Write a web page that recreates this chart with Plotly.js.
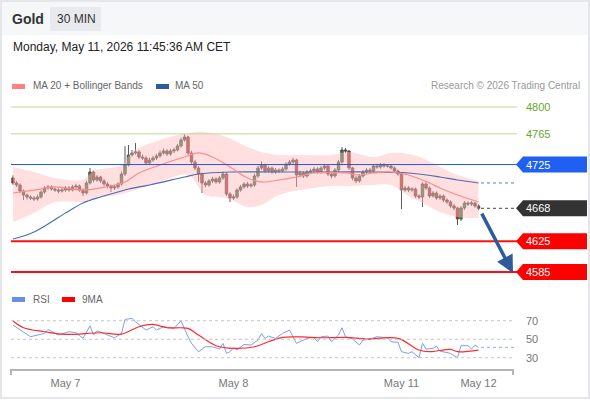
<!DOCTYPE html>
<html><head><meta charset="utf-8">
<script src="https://cdn.plot.ly/plotly-3.0.1.min.js"></script>
<style>html,body{margin:0;padding:0;background:#fff;}#chart{width:590px;height:400px;}</style>
</head><body><div id="chart"></div>
<script>
// ---- data ----
const tickLabels = ['May 7', 'May 8', 'May 11', 'May 12'];
const tickIdx = [15, 63, 111, 133];

const openP = [4707.5,4701.0,4698.4,4690.5,4685.3,4682.7,4681.4,4680.1,4682.7,4689.2,
4694.5,4695.8,4693.1,4691.8,4690.5,4691.8,4694.5,4691.8,4695.8,4697.1,
4691.8,4687.9,4701.0,4715.3,4704.9,4708.8,4703.6,4699.7,4697.1,4694.5,
4695.8,4699.7,4712.7,4724.4,4737.5,4740.1,4741.4,4734.8,4733.5,4727.0,
4730.9,4733.5,4736.2,4740.1,4742.7,4738.8,4742.7,4744.0,4749.2,4757.0,
4760.9,4740.1,4728.3,4720.5,4712.7,4701.0,4698.4,4703.6,4706.2,4702.3,
4707.5,4712.7,4686.6,4681.4,4682.7,4691.8,4695.8,4699.7,4697.1,4698.4,
4710.1,4720.5,4724.4,4716.6,4720.5,4715.3,4717.9,4716.6,4719.2,4725.7,
4728.3,4730.9,4711.4,4714.0,4710.1,4715.3,4716.6,4719.2,4715.3,4720.5,
4723.1,4712.7,4710.1,4717.9,4728.3,4744.0,4742.7,4720.5,4707.5,4703.6,
4710.1,4715.3,4717.9,4716.6,4723.1,4721.8,4724.4,4723.1,4723.1,4720.5,
4716.6,4712.7,4691.8,4694.5,4691.8,4693.1,4684.0,4682.7,4699.7,4694.5,
4684.0,4687.9,4681.4,4684.0,4678.8,4676.2,4671.0,4668.4,4654.1,4668.4,
4674.9,4673.6,4674.9,4671.0];
const highP = [4711,4703.5,4700.5,4692.5,4687.5,4685,4684,4686,4691.5,4697,
4698.5,4698,4695.5,4694,4694.5,4697,4697,4698.5,4700,4699,
4694,4704,4720.5,4717,4711.5,4710.5,4706,4702,4699,4698.5,
4702,4716,4749,4750.5,4744,4753,4744,4738,4736,4734,
4736.5,4739,4743.5,4746,4745,4745.5,4747,4752,4760,4764.5,
4762.5,4743,4731,4723,4714.5,4703.5,4706,4709,4708.5,4710,
4716,4714.5,4689,4686,4694,4698.5,4702,4702.5,4701,4713,
4723.5,4729,4726,4723,4722.5,4720.5,4720,4722,4728,4731,
4734,4732.5,4717,4716.5,4718,4719.5,4722,4721.5,4723,4726,
4725,4715,4720.5,4731,4748,4746.5,4744,4722,4710,4712.5,
4718,4720,4720.5,4725.5,4726,4727,4727,4725.5,4725,4722.5,
4718.5,4714,4697,4697,4695.5,4695,4686.5,4702,4702,4696.5,
4690.5,4690,4686.5,4686,4681,4678.5,4673.5,4670,4671,4677.5,
4677,4677.5,4676.5,4673];
const lowP = [4698.5,4696,4688,4678.8,4679.5,4679,4677.5,4678,4680.5,4687,
4692,4691,4689.5,4688,4688.5,4689.5,4689.5,4690,4693,4689.5,
4684,4686,4699,4702,4702.5,4701,4697,4694,4689.2,4692,
4693.5,4697.5,4710,4722.5,4735.5,4738,4732,4731,4724.5,4725,
4728.5,4731,4734,4738,4736,4736.5,4740,4742,4747,4755,
4737.5,4725.5,4717.5,4702.3,4687.9,4695.5,4696,4701,4700,4700,
4705,4684,4676.2,4679,4680.5,4689.5,4693.5,4694.5,4695,4696,
4707.5,4718,4714,4714.5,4713,4713,4714,4714.5,4717,4723.5,
4726,4695.8,4708.5,4707.5,4708,4713,4714,4713,4713,4718,
4710,4707,4708,4715.5,4726,4740,4718,4704.5,4701,4701.5,
4708,4713,4714,4714.5,4719.5,4719.5,4721,4721,4718.5,4714.5,
4710.5,4667,4689.5,4689,4689.5,4681.5,4680,4669.7,4692,4681.5,
4682,4679,4679,4676,4673.5,4668.5,4665.5,4646.2,4651.5,4666,
4671,4671,4668.5,4665.5];
const closeP = [4701.0,4698.4,4690.5,4685.3,4682.7,4681.4,4680.1,4682.7,4689.2,4694.5,
4695.8,4693.1,4691.8,4690.5,4691.8,4694.5,4691.8,4695.8,4697.1,4691.8,
4687.9,4701.0,4715.3,4704.9,4708.8,4703.6,4699.7,4697.1,4694.5,4695.8,
4699.7,4712.7,4724.4,4737.5,4740.1,4741.4,4734.8,4733.5,4727.0,4730.9,
4733.5,4736.2,4740.1,4742.7,4738.8,4742.7,4744.0,4749.2,4757.0,4760.9,
4740.1,4728.3,4720.5,4712.7,4701.0,4698.4,4703.6,4706.2,4702.3,4707.5,
4712.7,4686.6,4681.4,4682.7,4691.8,4695.8,4699.7,4697.1,4698.4,4710.1,
4720.5,4724.4,4716.6,4720.5,4715.3,4717.9,4716.6,4719.2,4725.7,4728.3,
4730.9,4711.4,4714.0,4710.1,4715.3,4716.6,4719.2,4715.3,4720.5,4723.1,
4712.7,4710.1,4717.9,4728.3,4744.0,4742.7,4720.5,4707.5,4703.6,4710.1,
4715.3,4717.9,4716.6,4723.1,4721.8,4724.4,4723.1,4723.1,4720.5,4716.6,
4712.7,4691.8,4694.5,4691.8,4693.1,4684.0,4682.7,4699.7,4694.5,4684.0,
4687.9,4681.4,4684.0,4678.8,4676.2,4671.0,4668.4,4654.1,4668.4,4674.9,
4673.6,4674.9,4671.0,4668.0];

const ma20Idx = [0,6,12,20,25,32,36,42,49,53,57,62,67,71,76,81,86,95,99,103,108,113,119,122,127,133];
const ma20 = [4687.9,4691.8,4695.8,4691.8,4694.5,4702.3,4714,4724.4,4734.8,4740.1,4734.8,4721.8,4707.5,4702.3,4704.9,4708.8,4714,4714,4711.4,4714,4715.3,4711.4,4701,4694.5,4685.3,4676.2];

const bbIdx = [0,6,12,20,23,31,34,42,50,55,61,67,71,76,82,91,96,103,108,113,117,122,127,133];
const bbUpper = [4721.8,4715.3,4707.5,4704.9,4716.6,4724.4,4741.4,4757.0,4766.1,4767.4,4760.9,4747.9,4741.4,4737.5,4737.5,4737.5,4741.4,4734.8,4740.1,4738.8,4733.5,4721.8,4711.4,4703.6];
const bbLower = [4650.1,4661.9,4676.2,4676.2,4680.1,4686.6,4690.5,4702.3,4711.4,4685.3,4681.4,4669.7,4672.3,4685.3,4691.8,4697.1,4697.1,4698.4,4698.4,4684.0,4674.9,4663.2,4656.7,4655.4];

const ma50Idx = [0,6,15,20,25,30,33,39,49,53,62,76,91,103,113,122,127,133];
const ma50 = [4628,4637.1,4661.9,4674.9,4682.7,4689.2,4693.1,4698.4,4708.8,4712.7,4715.3,4715.3,4715.3,4715.3,4714,4708.8,4704.9,4701];

const rsiIdx = [0,5,9,10,13,16,18,20,22,23,24,28,29,31,32,34,35,38,40,41,43,46,48,50,51,53,55,57,59,60,61,62,63,64,66,68,70,71,72,73,75,77,79,81,82,84,86,87,88,90,91,93,94,95,97,99,100,102,104,107,108,110,111,113,114,116,117,118,120,121,122,124,125,127,128,130,131,132,133];
const rsi = [65.3,52.7,56.3,60.6,54.5,58.1,57,50.9,64.6,54.5,59.2,52.7,51.6,56.3,71.4,72.5,68.9,59.9,63.5,59.9,63.5,61.7,70,52.7,45.5,36.5,41.9,41.9,39.4,45.5,34.7,36.5,40.8,38.3,44.4,43.7,49.1,56.3,50.9,53.4,50.9,56.3,59.9,45.5,47.3,50.9,52,47.3,52.7,53.4,47.3,54.5,62.4,52.7,50.2,43.7,49.1,50.2,52.7,51.6,47.3,46.6,36.5,34.7,36.5,30,45.5,39.4,40.1,42.6,37.2,35.8,34.7,30,43,43,39.4,43.7,41.2];

const rsiMaIdx = [0,3,9,15,25,31,36,40,44,48,50,53,58,63,69,73,77,82,88,95,101,110,116,119,125,127,133];
const rsiMa = [69.6,62.4,58.1,55.2,57,55.6,63.5,66,62.4,62.4,61.7,54.5,43,40.1,41.9,47.3,52,52.5,51.6,52,50.2,50.9,38.3,36.5,39,36.5,38.3];

const resistances = [4800, 4765];
const pivot = 4725;
const lastPrice = 4668;
const supports = [4625, 4585];
const rsiLevels = [70, 50, 30];

// ---- layout helpers (pixel -> paper) ----
const FONT = 'Liberation Sans, Arial, sans-serif';
const L = 11, R = 513, H = 400;
const px = x => (x - L) / (R - L);
const py = y => 1 - y / H;
const priceRange = [4572, 4809.1];
const rsiRange = [18.9, 92.4];
const pricePerPx = (priceRange[1] - priceRange[0]) / 182;
const idx = closeP.map((_, i) => i);

const traces = [
  {x: bbIdx, y: bbUpper, mode: 'lines', line: {width: 0, shape: 'spline'}, hoverinfo: 'skip'},
  {x: bbIdx, y: bbLower, mode: 'lines', line: {width: 0, shape: 'spline'}, fill: 'tonexty',
   fillcolor: 'rgba(255,185,185,0.45)', hoverinfo: 'skip'},
  {x: ma50Idx, y: ma50, mode: 'lines', line: {color: '#4a6fb0', width: 1.2, shape: 'spline'}, hoverinfo: 'skip'},
  {x: ma20Idx, y: ma20, mode: 'lines', line: {color: '#ff8a8a', width: 1.2, shape: 'spline'}, hoverinfo: 'skip'},
  {type: 'candlestick', x: idx, open: openP, high: highP, low: lowP, close: closeP, whiskerwidth: 0,
   increasing: {line: {color: '#4a4a4a', width: 0.9}, fillcolor: '#2f8f2f'},
   decreasing: {line: {color: '#4a4a4a', width: 0.9}, fillcolor: '#e8201c'}, hoverinfo: 'skip'},
  {x: rsiIdx, y: rsi, yaxis: 'y2', mode: 'lines', line: {color: '#7d9ef0', width: 1}, hoverinfo: 'skip'},
  {x: rsiMaIdx, y: rsiMa, yaxis: 'y2', mode: 'lines', line: {color: '#ff2a2a', width: 1.2, shape: 'spline'}, hoverinfo: 'skip'}
];

const shapes = [];
const ann = [];
// header band and frame
shapes.push({type: 'rect', layer: 'below', xref: 'paper', yref: 'paper', x0: px(1), x1: px(589), y0: py(1), y1: py(35),
  fillcolor: '#f6f7f8', line: {width: 0}});
shapes.push({type: 'rect', layer: 'below', xref: 'paper', yref: 'paper', x0: px(50), x1: px(101), y0: py(7), y1: py(31),
  fillcolor: '#e8eaed', line: {width: 0}});
shapes.push({type: 'rect', xref: 'paper', yref: 'paper', x0: px(1), x1: px(589), y0: py(1), y1: py(398),
  fillcolor: 'rgba(0,0,0,0)', line: {color: '#e4e6e9', width: 2}});
// legend swatches
shapes.push({type: 'rect', xref: 'paper', yref: 'paper', x0: px(12), x1: px(25), y0: py(84), y1: py(89), fillcolor: '#ff8080', line: {width: 0}});
shapes.push({type: 'rect', xref: 'paper', yref: 'paper', x0: px(156), x1: px(169), y0: py(84), y1: py(89), fillcolor: '#2f5b9c', line: {width: 0}});
shapes.push({type: 'rect', xref: 'paper', yref: 'paper', x0: px(12), x1: px(25), y0: py(297), y1: py(302), fillcolor: '#6a8ee8', line: {width: 0}});
shapes.push({type: 'rect', xref: 'paper', yref: 'paper', x0: px(62), x1: px(75), y0: py(297), y1: py(302), fillcolor: '#ff0000', line: {width: 0}});
// x axis bracket
shapes.push({type: 'path', xref: 'paper', yref: 'paper',
  path: `M ${px(11)},${py(375)} L ${px(11)},${py(370)} L ${px(513)},${py(370)} L ${px(513)},${py(375)}`,
  line: {color: '#b4b4b4', width: 2}});

// level lines
resistances.forEach(v => {
  shapes.push({type: 'line', xref: 'paper', yref: 'y', x0: 0, x1: px(517), y0: v, y1: v, line: {color: '#b9dd95', width: 1}});
  ann.push({xref: 'paper', yref: 'y', x: px(524), y: v, xanchor: 'left', yanchor: 'middle', showarrow: false,
    text: String(v), font: {size: 11, color: '#6aa82a', family: FONT}});
});
shapes.push({type: 'line', xref: 'paper', yref: 'y', x0: 0, x1: px(517), y0: pivot, y1: pivot, line: {color: '#2156e0', width: 1}});
supports.forEach(v => {
  shapes.push({type: 'line', xref: 'paper', yref: 'y', x0: 0, x1: px(517), y0: v, y1: v, line: {color: '#ff1010', width: 2}});
});
// dotted extensions
shapes.push({type: 'line', xref: 'paper', yref: 'y', x0: px(481), x1: px(516), y0: lastPrice, y1: lastPrice, line: {color: '#444', width: 1, dash: 'dot'}});
shapes.push({type: 'line', xref: 'paper', yref: 'y', x0: px(481), x1: px(516), y0: ma50[ma50.length - 1], y1: ma50[ma50.length - 1], line: {color: '#5b7fc0', width: 1, dash: 'dot'}});
shapes.push({type: 'line', xref: 'paper', yref: 'y2', x0: px(481), x1: px(515), y0: rsi[rsi.length - 1], y1: rsi[rsi.length - 1], line: {color: '#93aaf0', width: 1, dash: 'dot'}});

// tags
const tagH = 8 * pricePerPx;
[[pivot, '#1f5ff2'], [lastPrice, '#333333'], [supports[0], '#ff0000'], [supports[1], '#ff0000']].forEach(([v, c]) => {
  shapes.push({type: 'path', xref: 'paper', yref: 'y',
    path: `M ${px(516)},${v} L ${px(523)},${v + tagH} L ${px(587)},${v + tagH} L ${px(587)},${v - tagH} L ${px(523)},${v - tagH} Z`,
    fillcolor: c, line: {width: 0}});
  ann.push({xref: 'paper', yref: 'y', x: px(524), y: v, xanchor: 'left', yanchor: 'middle', showarrow: false,
    text: String(v), font: {size: 11, color: '#ffffff', family: FONT}});
});

// RSI grid and labels
rsiLevels.forEach(v => {
  shapes.push({type: 'line', xref: 'paper', yref: 'y2', x0: 0, x1: px(515), y0: v, y1: v, line: {color: '#c4c4c4', width: 1, dash: 'dot'}});
  ann.push({xref: 'paper', yref: 'y2', x: px(524), y: v, xanchor: 'left', yanchor: 'middle', showarrow: false,
    text: String(v), font: {size: 11, color: '#777', family: FONT}});
});

// texts
const txt = (x, y, t, size, color, anchor, bold) => ann.push({xref: 'paper', yref: 'paper', x: px(x), y: py(y),
  xanchor: anchor || 'left', yanchor: 'middle', showarrow: false, text: bold ? '<b>' + t + '</b>' : t,
  font: {size: size, color: color, family: FONT}});
txt(10, 19, 'Gold', 14, '#333', 'left', true);
txt(55, 19, '30 MIN', 12, '#333');
txt(11, 47, 'Monday, May 11, 2026 11:45:36 AM CET', 12, '#222');
txt(31, 86, 'MA 20 + Bollinger Bands', 10, '#666');
txt(173, 86, 'MA 50', 10, '#666');
txt(582, 86, 'Research © 2026 Trading Central', 10, '#999', 'right');
txt(31, 299, 'RSI', 10, '#666');
txt(80, 299, '9MA', 10, '#666');

// forecast arrow
ann.push({xref: 'paper', yref: 'y', x: px(513), y: 4583.5, ax: -32, ay: -61, showarrow: true, text: '',
  arrowhead: 2, arrowsize: 1, arrowwidth: 3.5, arrowcolor: '#2f5b9c'});

const layout = {
  width: 590, height: 400, margin: {l: 11, r: 77, t: 0, b: 0},
  paper_bgcolor: '#ffffff', plot_bgcolor: 'rgba(0,0,0,0)', showlegend: false,
  font: {family: FONT}, boxgap: 0.3, boxgroupgap: 0,
  xaxis: {range: [-0.571, 142.86], anchor: 'free', position: py(370), showline: false, showgrid: false, zeroline: false,
    tickvals: tickIdx, ticktext: tickLabels, ticks: 'outside', ticklen: 3, tickcolor: 'rgba(0,0,0,0)',
    tickfont: {size: 11, color: '#777', family: FONT}, rangeslider: {visible: false}, fixedrange: true},
  yaxis: {domain: [py(282), py(100)], range: priceRange, visible: false, fixedrange: true},
  yaxis2: {domain: [py(368), py(300)], range: rsiRange, visible: false, fixedrange: true},
  shapes: shapes, annotations: ann
};

Plotly.newPlot('chart', traces, layout, {displayModeBar: false, staticPlot: true});
</script>
</body></html>
